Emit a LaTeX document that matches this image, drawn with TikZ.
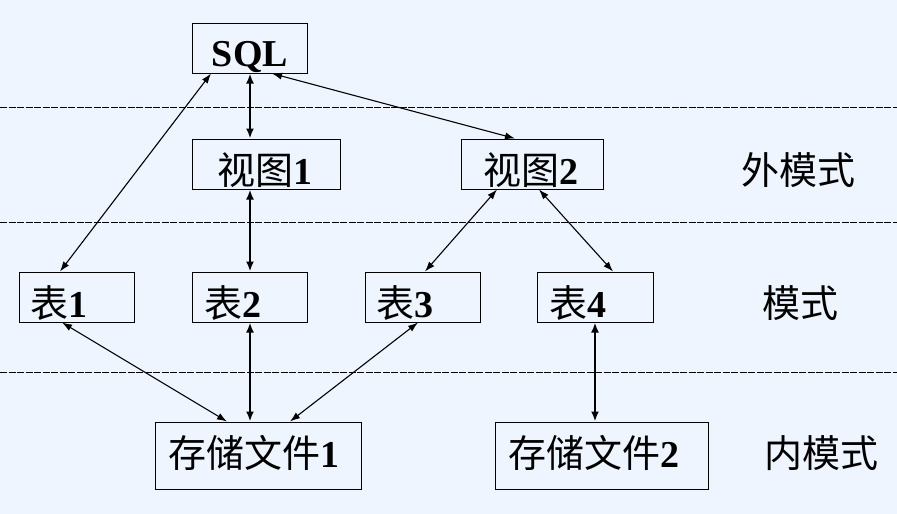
\documentclass[tikz,border=0pt]{standalone}
\usepackage{fontspec}
\setmainfont{Liberation Serif}
\newfontfamily\cjk{Noto Sans CJK SC}
\usetikzlibrary{arrows.meta}
\definecolor{bgblue}{RGB}{238,245,255}
\tikzset{
  box/.style={draw=black, line width=1pt, inner sep=0pt},
  lbl/.style={inner sep=0pt, anchor=base, font=\fontsize{38pt}{44pt}\selectfont},
  sep/.style={draw=black, line width=1pt, dash pattern=on 7pt off 1.5pt},
  thin/.style={line width=1.1pt, {Latex[length=10pt,width=7pt]}-{Latex[length=10pt,width=7pt]}},
  thick/.style={line width=2pt, {Latex[length=10pt,width=8pt]}-{Latex[length=10pt,width=8pt]}}
}
\begin{document}
\begin{tikzpicture}[x=1pt,y=-1pt]
\fill[bgblue] (0,0) rectangle (897,514);
\useasboundingbox (0,0) rectangle (897,514);
% separators
\coordinate (s1a) at (0,107); \coordinate (s1b) at (897,107);
\coordinate (s2a) at (0,222); \coordinate (s2b) at (897,222);
\coordinate (s3a) at (0,372); \coordinate (s3b) at (897,372);
\draw[sep] (s1a) -- (s1b);
\draw[sep] (s2a) -- (s2b);
\draw[sep] (s3a) -- (s3b);
% boxes
\node[box, minimum width=115pt, minimum height=50pt] (sql) at (249.5,48) {};
\node[box, minimum width=148pt, minimum height=50pt] (v1) at (266,164) {};
\node[box, minimum width=142pt, minimum height=50pt] (v2) at (532,164) {};
\node[box, minimum width=115pt, minimum height=50pt] (t1) at (76.5,297) {};
\node[box, minimum width=115pt, minimum height=50pt] (t2) at (249.5,297) {};
\node[box, minimum width=115pt, minimum height=50pt] (t3) at (422.5,297) {};
\node[box, minimum width=116pt, minimum height=50pt] (t4) at (595,297) {};
\node[box, minimum width=206pt, minimum height=67pt] (f1) at (258,455.5) {};
\node[box, minimum width=213pt, minimum height=67pt] (f2) at (601.5,455.5) {};
% labels
\node[lbl] (lsql) at (250,66.5) {\textbf{SQL}};
\node[lbl] (lv1) at (265,184) {{\cjk 视图}\textbf{1}};
\node[lbl] (lv2) at (531,184) {{\cjk 视图}\textbf{2}};
\node[lbl] (lext) at (798,184) {\cjk 外模式};
\node[lbl] (lt1) at (59,317) {{\cjk 表}\textbf{1}};
\node[lbl] (lt2) at (233,317) {{\cjk 表}\textbf{2}};
\node[lbl] (lt3) at (405,317) {{\cjk 表}\textbf{3}};
\node[lbl] (lt4) at (578,317) {{\cjk 表}\textbf{4}};
\node[lbl] (lsch) at (800,317) {\cjk 模式};
\node[lbl] (lf1) at (254,467) {{\cjk 存储文件}\textbf{1}};
\node[lbl] (lf2) at (594,467) {{\cjk 存储文件}\textbf{2}};
\node[lbl] (lint) at (821,467) {\cjk 内模式};
% connectors
\draw[thin] ([xshift=-38.5pt]sql.south) -- ([xshift=-16.5pt]t1.north);
\draw[thick] ([xshift=0.5pt]sql.south) -- ([xshift=-16pt]v1.north);
\draw[thin] ([xshift=22.5pt]sql.south) -- ([xshift=-17pt]v2.north);
\draw[thick] ([xshift=-16pt]v1.south) -- ([xshift=0.5pt]t2.north);
\draw[thin] ([xshift=-35pt]v2.south) -- ([xshift=2.5pt]t3.north);
\draw[thin] ([xshift=7pt]v2.south) -- ([xshift=18pt]t4.north);
\draw[thin] ([xshift=-14.5pt]t1.south) -- ([xshift=-31pt]f1.north);
\draw[thick] ([xshift=0.5pt]t2.south) -- ([xshift=-8pt]f1.north);
\draw[thin] ([xshift=-4.5pt]t3.south) -- ([xshift=32pt]f1.north);
\draw[thick] (t4.south) -- ([xshift=-6.5pt]f2.north);
\end{tikzpicture}
\end{document}
